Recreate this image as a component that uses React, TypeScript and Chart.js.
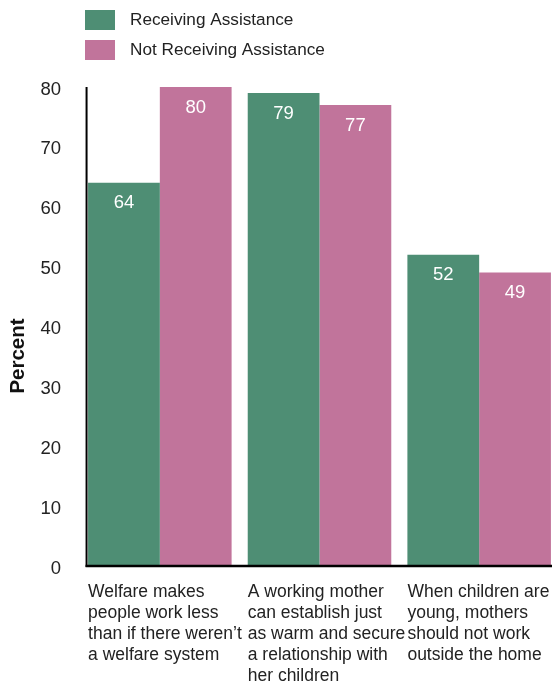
import React, { useEffect, useRef } from "react";
import { Chart, registerables } from "chart.js";

Chart.register(...registerables);

const categories: string[][] = [
  ["Welfare makes", "people work less", "than if there weren’t", "a welfare system"],
  ["A working mother", "can establish just", "as warm and secure", "a relationship with", "her children"],
  ["When children are", "young, mothers", "should not work", "outside the home"],
];
const receiving: number[] = [64, 79, 52];
const notReceiving: number[] = [80, 77, 49];
const seriesLabels = ["Receiving Assistance", "Not Receiving Assistance"];
const seriesColors = ["#4E8E74", "#C1749B"];
const yTicks = [0, 10, 20, 30, 40, 50, 60, 70, 80];
const yTitle = "Percent";

const FONT = "'Liberation Sans', Arial, Helvetica, sans-serif";
const TEXT = "#222222";

const decorPlugin = {
  id: "decor",
  afterDatasetsDraw(chart: any) {
    const ctx = chart.ctx;
    const y = chart.scales.y;
    const meta0 = chart.getDatasetMeta(0);
    ctx.save();
    // value labels
    ctx.fillStyle = "#ffffff";
    ctx.font = `18.5px ${FONT}`;
    ctx.textAlign = "center";
    ctx.textBaseline = "middle";
    chart.data.datasets.forEach((ds: any, di: number) => {
      const meta = chart.getDatasetMeta(di);
      meta.data.forEach((bar: any, i: number) => {
        ctx.fillText(String(ds.data[i]), bar.x, bar.y + 20.5);
      });
    });
    // axis lines
    const firstBar = meta0.data[0];
    const axisX = firstBar.x - firstBar.width / 2 - 1.5;
    const zeroY = y.getPixelForValue(0);
    ctx.strokeStyle = "#000000";
    ctx.lineWidth = 2;
    ctx.beginPath();
    ctx.moveTo(axisX, y.getPixelForValue(80));
    ctx.lineTo(axisX, zeroY + 1);
    ctx.stroke();
    ctx.lineWidth = 2.5;
    ctx.beginPath();
    ctx.moveTo(axisX - 1, zeroY);
    ctx.lineTo(552, zeroY);
    ctx.stroke();
    // x category labels
    ctx.fillStyle = TEXT;
    ctx.font = `17.5px ${FONT}`;
    ctx.textAlign = "left";
    ctx.textBaseline = "alphabetic";
    (chart.data.labels as string[][]).forEach((lines, i) => {
      const b = meta0.data[i];
      const left = b.x - b.width / 2;
      lines.forEach((line, k) => {
        ctx.fillText(line, left, 597 + k * 21);
      });
    });
    // legend
    ctx.font = `17.2px ${FONT}`;
    ctx.textBaseline = "middle";
    chart.data.datasets.forEach((ds: any, di: number) => {
      const top = 10 + di * 30;
      ctx.fillStyle = ds.backgroundColor;
      ctx.fillRect(85, top, 30, 20);
      ctx.fillStyle = TEXT;
      ctx.fillText(ds.label, 130, top + 10.5);
    });
    // y title
    ctx.translate(18.5, 356);
    ctx.rotate(-Math.PI / 2);
    ctx.font = `bold 20.5px ${FONT}`;
    ctx.textAlign = "center";
    ctx.textBaseline = "middle";
    ctx.fillStyle = "#111111";
    ctx.fillText(yTitle, 0, 0);
    ctx.restore();
  },
};

export default function App() {
  const ref = useRef<HTMLCanvasElement>(null);
  useEffect(() => {
    if (!ref.current) return;
    const chart = new Chart(ref.current, {
      type: "bar",
      data: {
        labels: categories as any,
        datasets: [
          { label: seriesLabels[0], data: receiving, backgroundColor: seriesColors[0], borderWidth: 0 },
          { label: seriesLabels[1], data: notReceiving, backgroundColor: seriesColors[1], borderWidth: 0 },
        ],
      },
      options: {
        responsive: false,
        animation: false,
        devicePixelRatio: 1,
        layout: { padding: { top: 87, right: 1, left: 0, bottom: 0 } },
        categoryPercentage: 0.899,
        barPercentage: 1,
        plugins: { legend: { display: false }, tooltip: { enabled: false }, title: { display: false } },
        scales: {
          x: {
            grid: { display: false },
            border: { display: false },
            ticks: { display: false },
            afterFit: (s: any) => {
              s.height = 122;
            },
          },
          y: {
            min: 0,
            max: 80,
            grid: { display: false },
            border: { display: false },
            afterFit: (s: any) => {
              s.width = 80;
            },
            afterBuildTicks: (s: any) => {
              s.ticks = yTicks.map((v) => ({ value: v }));
            },
            ticks: {
              padding: 11,
              labelOffset: 2.5,
              color: TEXT,
              font: { size: 18.5, family: FONT },
            },
          },
        },
      } as any,
      plugins: [decorPlugin],
    });
    return () => chart.destroy();
  }, []);
  return (
    <div style={{ position: "fixed", left: 0, top: 0, width: 560, height: 688, background: "#fff", overflow: "hidden" }}>
      <canvas ref={ref} width={560} height={688} style={{ width: 560, height: 688, display: "block" }} />
    </div>
  );
}
